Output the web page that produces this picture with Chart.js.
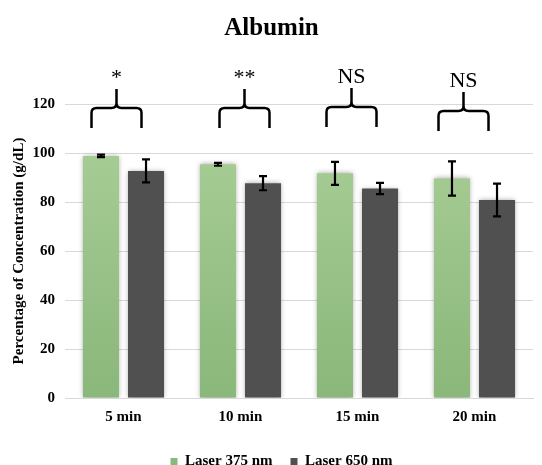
<!DOCTYPE html>
<html>
<head>
<meta charset="utf-8">
<script src="https://cdn.jsdelivr.net/npm/chart.js@4/dist/chart.umd.min.js"></script>
<style>
  html, body { margin: 0; padding: 0; background: #fff; }
  #wrap { width: 542px; height: 465px; }
</style>
</head>
<body>
<div id="wrap"><canvas id="albChart" width="542" height="465"></canvas></div>
<script>
const categories = ['5 min', '10 min', '15 min', '20 min'];
const laser375 = [98.8, 95.4, 91.7, 89.6];
const laser375Err = [0.5, 0.6, 4.7, 7.0];
const laser650 = [92.7, 87.7, 85.5, 80.8];
const laser650Err = [4.7, 2.9, 2.3, 6.7];
const sigLabels = ['*', '**', 'NS', 'NS'];
const yTicks = [0, 20, 40, 60, 80, 100, 120];

const serif = '"Liberation Serif", "Times New Roman", serif';

// green bars fade lighter toward the top
function greenFill(context) {
  const chart = context.chart;
  const area = chart.chartArea;
  if (!area) return '#9cc389';
  const g = chart.ctx.createLinearGradient(0, area.bottom, 0, area.top);
  g.addColorStop(0, '#8ab77a');
  g.addColorStop(1, '#abd099');
  return g;
}

// soft shadow round the bars
const barShadow = {
  id: 'barShadow',
  beforeDatasetsDraw(chart) {
    const ctx = chart.ctx;
    ctx.save();
    ctx.shadowColor = 'rgba(0,0,0,0.35)';
    ctx.shadowBlur = 5;
  },
  afterDatasetsDraw(chart) {
    chart.ctx.restore();
  }
};

// error bars from the err arrays
const errorBars = {
  id: 'errorBars',
  afterDatasetsDraw(chart) {
    const ctx = chart.ctx;
    const y = chart.scales.y;
    const errs = [laser375Err, laser650Err];
    ctx.save();
    ctx.strokeStyle = '#000';
    ctx.lineWidth = 2.2;
    chart.data.datasets.forEach((ds, di) => {
      const meta = chart.getDatasetMeta(di);
      meta.data.forEach((bar, i) => {
        const v = ds.data[i];
        const e = errs[di][i];
        const top = y.getPixelForValue(v + e);
        const bot = y.getPixelForValue(v - e);
        const x = bar.x;
        const cap = 4;
        ctx.beginPath();
        ctx.moveTo(x, top); ctx.lineTo(x, bot);
        ctx.moveTo(x - cap, top); ctx.lineTo(x + cap, top);
        ctx.moveTo(x - cap, bot); ctx.lineTo(x + cap, bot);
        ctx.stroke();
      });
    });
    ctx.restore();
  }
};

// curly braces with significance marks over each group (hand placed in the original)
const braceShiftX = [-7, 4, -6, -11];
const braceShiftY = [0, 0, -1, 3];
const sigBraces = {
  id: 'sigBraces',
  afterDraw(chart) {
    const ctx = chart.ctx;
    const x = chart.scales.x;
    const top = chart.chartArea.top;
    ctx.save();
    ctx.strokeStyle = '#000';
    ctx.lineWidth = 2.5;
    ctx.lineJoin = 'round';
    categories.forEach((c, i) => {
      const cx = x.getPixelForValue(i) + braceShiftX[i];
      const dy = braceShiftY[i];
      const half = 25;
      const yPeak = top - 15 + dy;
      const yBar = top + 4 + dy;
      const yEnd = top + 24 + dy;
      const r = 5;
      ctx.beginPath();
      ctx.moveTo(cx - half, yEnd);
      ctx.lineTo(cx - half, yBar + r);
      ctx.quadraticCurveTo(cx - half, yBar, cx - half + r, yBar);
      ctx.lineTo(cx - r, yBar);
      ctx.quadraticCurveTo(cx, yBar, cx, yBar - r);
      ctx.lineTo(cx, yPeak);
      ctx.moveTo(cx, yBar - r);
      ctx.quadraticCurveTo(cx, yBar, cx + r, yBar);
      ctx.lineTo(cx + half - r, yBar);
      ctx.quadraticCurveTo(cx + half, yBar, cx + half, yBar + r);
      ctx.lineTo(cx + half, yEnd);
      ctx.stroke();

      ctx.fillStyle = '#000';
      ctx.textAlign = 'center';
      ctx.textBaseline = 'alphabetic';
      ctx.font = '22px ' + serif;
      ctx.fillText(sigLabels[i], cx, yPeak - 5);
    });
    ctx.restore();
  }
};

// legend sits a little right of centre in the original
const legendNudge = {
  id: 'legendNudge',
  afterLayout(chart) {
    chart.legend.left += 10;
    chart.legend.right += 10;
  }
};

new Chart(document.getElementById('albChart'), {
  type: 'bar',
  data: {
    labels: categories,
    datasets: [
      {
        label: 'Laser 375 nm',
        data: laser375,
        backgroundColor: greenFill,
        categoryPercentage: 0.77,
        barPercentage: 0.8
      },
      {
        label: 'Laser 650 nm',
        data: laser650,
        backgroundColor: '#505050',
        categoryPercentage: 0.77,
        barPercentage: 0.8
      }
    ]
  },
  options: {
    responsive: false,
    animation: false,
    layout: { padding: { left: 10, right: 9, top: 0, bottom: -14 } },
    plugins: {
      title: {
        display: true,
        text: 'Albumin',
        color: '#000',
        font: { family: serif, size: 25, weight: 'bold' },
        padding: { top: 14, bottom: 60 }
      },
      legend: {
        position: 'bottom',
        labels: {
          color: '#000',
          font: { family: serif, size: 15, weight: 'bold' },
          boxWidth: 7,
          boxHeight: 7,
          padding: 18
        }
      },
      tooltip: { enabled: false }
    },
    scales: {
      x: {
        grid: { display: false, drawTicks: false },
        border: { color: '#d9d9d9' },
        ticks: {
          color: '#000',
          font: { family: serif, size: 15, weight: 'bold' },
          padding: 10
        }
      },
      y: {
        min: 0,
        max: 120,
        afterBuildTicks(axis) { axis.ticks = yTicks.map(v => ({ value: v })); },
        afterFit(scale) { scale.width = 55; },
        grid: { color: '#d9d9d9', drawTicks: false },
        border: { display: false },
        ticks: {
          color: '#000',
          font: { family: serif, size: 15, weight: 'bold' },
          padding: 10
        },
        title: {
          display: true,
          text: 'Percentage of Concentration (g/dL)',
          color: '#000',
          font: { family: serif, size: 15, weight: 'bold' },
          padding: { top: 0, bottom: 4 }
        }
      }
    }
  },
  plugins: [barShadow, errorBars, sigBraces, legendNudge]
});
</script>
</body>
</html>
